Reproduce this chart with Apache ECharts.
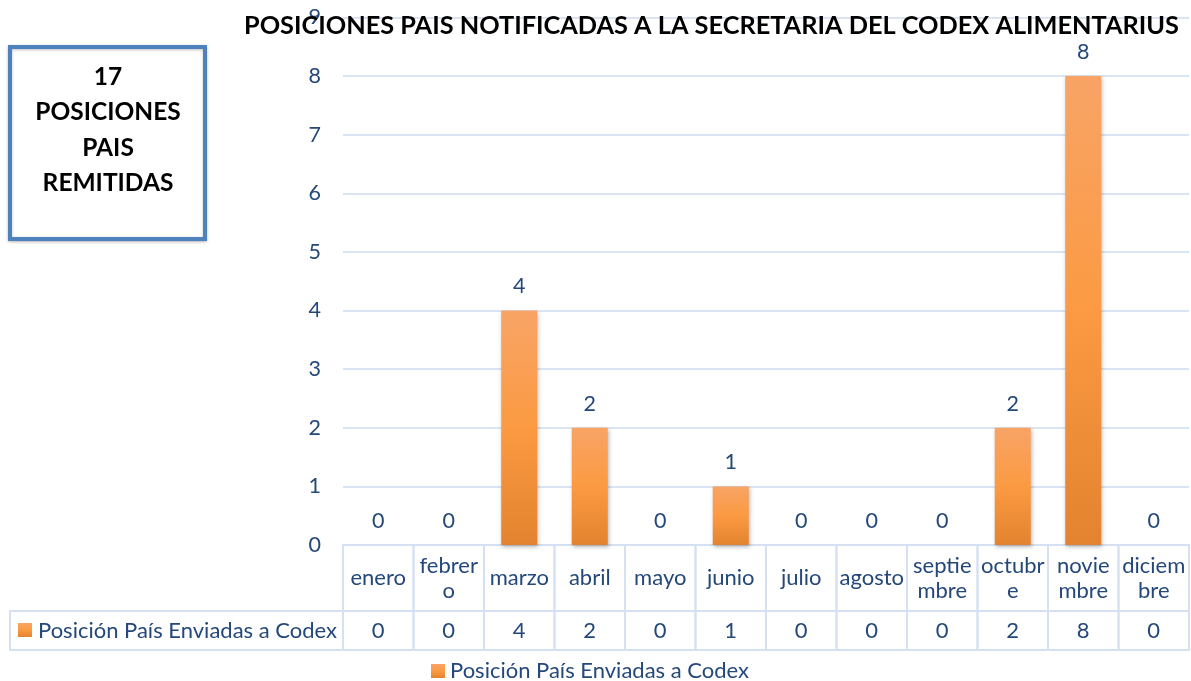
<!DOCTYPE html>
<html>
<head>
<meta charset="utf-8">
<script src="https://cdn.jsdelivr.net/npm/echarts@6/dist/echarts.min.js"></script>
<style>html,body{margin:0;padding:0;background:#fff}#c{width:1191px;height:681px}</style>
</head>
<body>
<div id="c"></div>
<script>
// ---- data ----
const categories = ['enero','febrero','marzo','abril','mayo','junio','julio','agosto','septiembre','octubre','noviembre','diciembre'];
const monthLabels = ['enero','febrer\no','marzo','abril','mayo','junio','julio','agosto','septie\nmbre','octubr\ne','novie\nmbre','diciem\nbre'];
const seriesName = 'Posición País Enviadas a Codex';
const values = [0,0,4,2,0,1,0,0,0,2,8,0];
const yTicks = [0,1,2,3,4,5,6,7,8,9];
const titleText = 'POSICIONES PAIS NOTIFICADAS A LA SECRETARIA DEL CODEX ALIMENTARIUS';
const boxLines = ['17','POSICIONES','PAIS','REMITIDAS'];

// ---- layout / style ----
const W = 1191, H = 681;
const plotLeft = 343, plotRight = 2, plotTop = 17.4, plotBottomY = 545;
const row1Bottom = 611, row2Bottom = 650;
const legendCellLeft = 10;
const txt = '#24487A';
const border = '#D5E1F2';
const font = 'Lato';
const tableFont = 22;

const barGrad = new echarts.graphic.LinearGradient(0,0,0,1,[
  {offset:0,color:'#F8A466'},
  {offset:0.5,color:'#FB9A42'},
  {offset:1,color:'#E4832F'}
]);

const chart = echarts.init(document.getElementById('c'), null, {renderer:'canvas'});

function cellSeries(gridIdx, texts, fontSize, lh){
  return {
    type:'custom', xAxisIndex:gridIdx, yAxisIndex:gridIdx, silent:true,
    data: texts.map((t,i)=>[i,0]),
    renderItem:function(params, api){
      const i = api.value(0);
      const c = api.coord([i,0]);
      const w = api.size([1,0])[0];
      const cs = params.coordSys;
      return {
        type:'group',
        children:[
          {type:'rect', shape:{x:c[0]-w/2, y:cs.y, width:w, height:cs.height},
           style:{fill:'rgba(0,0,0,0)', stroke:border, lineWidth:2}},
          {type:'text', x:c[0], y:cs.y+cs.height/2,
           style:{text:String(texts[i]), fill:txt, font:fontSize+'px '+font, align:'center', verticalAlign:'middle', lineHeight:lh}}
        ]
      };
    }
  };
}

const option = {
  animation:false,
  backgroundColor:'#fff',
  textStyle:{fontFamily:font},
  title:{
    text:titleText, left:239, top:8,
    textStyle:{fontFamily:font, fontWeight:'bold', fontSize:25.3, color:'#000'}
  },
  legend:{
    data:[seriesName], left:431, top:660, padding:0, icon:'rect', itemWidth:14, itemHeight:14, itemGap:6,
    textStyle:{fontFamily:font, fontSize:tableFont, color:txt, lineHeight:22}
  },
  grid:[
    {left:plotLeft, right:plotRight, top:plotTop, bottom:H-plotBottomY, containLabel:false},
    {left:plotLeft, right:plotRight, top:plotBottomY, bottom:H-row1Bottom, containLabel:false},
    {left:plotLeft, right:plotRight, top:row1Bottom, bottom:H-row2Bottom, containLabel:false}
  ],
  xAxis:[
    {type:'category', gridIndex:0, data:categories, axisLine:{show:false}, axisTick:{show:false}, axisLabel:{show:false}},
    {type:'category', gridIndex:1, data:categories, show:false},
    {type:'category', gridIndex:2, data:categories, show:false}
  ],
  yAxis:[
    {type:'value', gridIndex:0, min:yTicks[0], max:yTicks[yTicks.length-1], interval:1,
     axisLine:{show:false}, axisTick:{show:false},
     axisLabel:{color:txt, fontSize:21.5, fontFamily:font, margin:22},
     splitLine:{lineStyle:{color:'#DAE4F3', width:2}}},
    {type:'value', gridIndex:1, show:false, min:0, max:1},
    {type:'value', gridIndex:2, show:false, min:0, max:1}
  ],
  series:[
    {
      name:seriesName, type:'bar', xAxisIndex:0, yAxisIndex:0, data:values, barWidth:36,
      itemStyle:{color:barGrad, shadowBlur:4, shadowColor:'rgba(0,0,0,0.28)', shadowOffsetX:1, shadowOffsetY:2},
      label:{show:true, position:'top', distance:13, color:txt, fontSize:21.5, fontFamily:font},
      z:3
    },
    cellSeries(1, monthLabels, tableFont, 25),
    cellSeries(2, values, tableFont, 24)
  ],
  graphic:[
    // data table legend-key cell
    {type:'rect', shape:{x:legendCellLeft, y:row1Bottom, width:plotLeft-legendCellLeft, height:row2Bottom-row1Bottom},
     style:{fill:'rgba(0,0,0,0)', stroke:border, lineWidth:2}, silent:true},
    {type:'rect', shape:{x:18, y:623, width:14, height:14}, style:{fill:barGrad}, silent:true},
    {type:'text', x:38, y:(row1Bottom+row2Bottom)/2,
     style:{text:seriesName, fill:txt, font:tableFont+'px '+font, verticalAlign:'middle'}, silent:true},
    // summary box
    {type:'rect', shape:{x:10, y:47, width:195, height:192},
     style:{fill:'#fff', stroke:'#4F81BD', lineWidth:4, shadowBlur:3, shadowColor:'rgba(0,0,0,0.25)', shadowOffsetY:1}, silent:true},
    {type:'text', x:108, y:130,
     style:{text:boxLines.join('\n'), fill:'#000', font:'bold 24.5px '+font, align:'center', verticalAlign:'middle', lineHeight:35.5}, silent:true}
  ]
};
chart.setOption(option);
</script>
</body>
</html>
